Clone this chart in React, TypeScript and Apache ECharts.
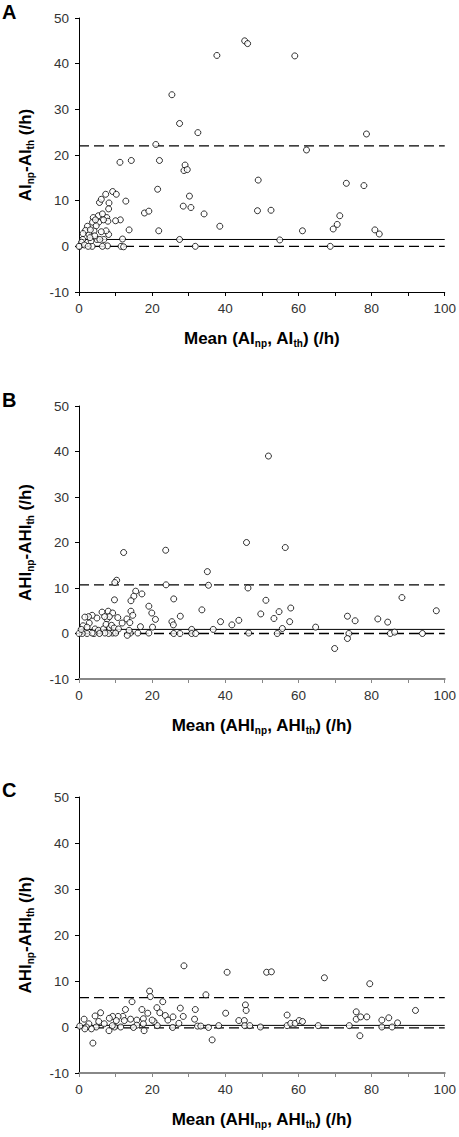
import React, { useEffect, useRef } from "react";
import * as echarts from "echarts";

// ---- Data (mean of two measures, difference) ----
const pointsA: [number, number][] = [
  [37.7, 41.8], [25.4, 33.2], [27.5, 26.9], [32.5, 24.9], [21.0, 22.3], [11.2, 18.4], [14.3, 18.8], [22.0, 18.8],
  [29.0, 17.8], [28.7, 16.6], [29.6, 16.8], [21.5, 12.5], [30.2, 11.0], [28.5, 8.8], [30.6, 8.5], [34.2, 7.1],
  [17.9, 7.3], [19.1, 7.7], [21.8, 3.4], [27.5, 1.5], [31.8, 0], [38.5, 4.4], [12.8, 9.9], [13.7, 3.6],
  [11.9, 1.6], [11.5, 0], [12.2, -0.1], [11.3, 5.8], [10.0, 5.6], [9.2, 12.0], [10.2, 11.4], [7.3, 11.4],
  [8.2, 9.5], [8.1, 8.2], [5.6, 9.6], [6.1, 10.3], [7.6, 6.3], [7.9, 5.5], [8.1, 2.6], [7.4, 3.4],
  [7.8, 0.1], [6.4, 0], [6.8, 1.5], [6.1, 3.2], [5.4, 5.3], [5.3, 6.7], [6.4, 7.1], [3.9, 6.3],
  [3.7, 5.3], [2.3, 4.4], [4.1, 3.4], [4.7, 4.5], [4.9, 1.5], [3.6, 0], [3.3, 1.2], [2.7, 2.6],
  [1.8, 3.5], [1.1, 2.8], [1.0, 1.5], [0.7, 0.9], [0.2, 0], [0, 0], [1.5, 0.3], [2.5, 0],
  [4.3, 2.3], [5.7, 1.5], [3.0, 1.9], [6.7, 5.8], [4.5, 5.8], [3.1, 3.6],
  [45.3, 45.0], [46.1, 44.4], [59.0, 41.7], [78.6, 24.6], [62.2, 21.1], [49.0, 14.5], [73.1, 13.8], [77.9, 13.3],
  [48.8, 7.8], [52.5, 7.9], [71.3, 6.7], [70.6, 4.8], [69.5, 3.8], [61.1, 3.4], [80.9, 3.6], [82.1, 2.7],
  [54.9, 1.4], [68.7, 0],
];
const pointsB: [number, number][] = [
  [12.2, 17.8], [23.7, 18.3], [35.1, 13.6], [35.4, 10.6], [23.8, 10.7], [10.3, 11.7], [9.8, 11.2], [9.7, 7.4],
  [15.5, 9.3], [15.0, 8.2], [17.2, 8.7], [14.2, 7.2], [14.2, 4.9], [14.7, 4.0], [13.1, 3.2], [13.9, 2.4],
  [11.8, 2.3], [10.6, 3.5], [25.9, 7.6], [19.1, 6.0], [19.9, 4.5], [20.9, 3.1], [20.1, 1.4], [19.1, 0.1],
  [16.8, 1.5], [16.1, 0.1], [14.0, 0.1], [13.2, -0.4], [13.7, 0.7], [25.4, 2.6], [25.8, 1.9], [27.7, 3.8],
  [25.9, 0], [27.6, 0], [30.8, 0.9], [30.8, 0], [31.9, 0], [33.6, 5.2], [36.7, 0.9], [38.7, 2.6],
  [6.3, 4.7], [8.0, 4.9], [9.2, 4.5], [7.7, 3.2], [8.3, 3.7], [7.0, 3.7], [4.9, 3.4], [3.6, 4.0],
  [2.6, 3.7], [1.6, 3.6], [1.1, 1.7], [2.8, 2.3], [2.2, 1.4], [4.4, 1.0], [5.3, 0.7], [6.7, 1.0],
  [7.4, 2.0], [8.4, 1.2], [8.9, 1.8], [9.6, 1.2], [9.2, 0.1], [8.1, 0], [7.1, 0.1], [5.6, 0],
  [4.1, 0], [3.6, 0.1], [2.2, 0], [0.9, 0], [0, 0], [0.6, 0.9], [10.8, 1.0], [10.0, 0.1],
  [51.8, 39.0], [45.8, 20.0], [56.4, 18.9], [46.2, 10.0], [88.3, 7.9], [51.1, 7.3], [49.7, 4.3], [54.7, 4.8],
  [57.9, 5.6], [53.3, 3.3], [57.6, 2.6], [55.6, 1.1], [54.2, 0], [46.4, 0.1], [43.7, 2.9], [41.8, 1.9],
  [64.7, 1.4], [69.9, -3.3], [73.4, 3.8], [73.8, 0], [73.4, -1.1], [75.5, 2.8], [81.7, 3.2], [84.4, 2.5],
  [85.1, 0], [86.3, 0.3], [93.9, 0], [97.7, 5.0],
];
const pointsC: [number, number][] = [
  [28.7, 13.3], [34.7, 7.0], [19.3, 7.8], [19.5, 6.6], [22.9, 5.5], [14.5, 5.5], [21.3, 4.2], [22.1, 3.1],
  [23.6, 2.5], [24.3, 1.5], [25.7, 2.2], [27.7, 4.1], [28.5, 2.3], [27.3, 0.8], [25.6, -0.1], [21.4, 0.3],
  [20.5, 1.2], [20.0, 1.5], [18.8, 3.0], [17.2, 3.8], [17.6, 1.8], [17.6, 0.7], [17.8, -0.8], [15.8, 1.5],
  [15.8, 0.4], [14.9, -0.1], [14.1, 1.7], [12.7, 3.8], [12.0, 2.3], [12.4, 1.4], [11.4, 0], [10.7, 2.3],
  [10.2, 1.4], [9.2, 2.3], [9.7, 0], [9.1, 0.3], [8.3, 1.9], [8.2, -0.8], [6.9, 0.7], [5.9, 3.1],
  [5.4, 1.2], [4.7, 0], [4.4, 2.4], [3.8, -3.5], [3.4, -0.4], [2.7, 0.7], [2.0, 0], [1.4, 1.7],
  [1.6, -0.4], [0.2, 0.2], [31.6, 1.7], [31.8, 3.8], [32.4, 0.2], [33.3, 0.2], [35.4, -0.1], [36.4, -2.8],
  [38.2, 0.3], [40.1, 3.0], [40.5, 11.9],
  [51.3, 11.9], [52.6, 12.0], [67.1, 10.7], [79.5, 9.4], [45.5, 4.8], [45.7, 3.6], [43.7, 1.4], [45.2, 1.4],
  [45.3, 0.3], [46.7, 0.3], [49.6, 0], [56.9, 2.6], [56.9, 0.3], [57.9, 0.8], [59.1, 0.8], [60.2, 1.4],
  [61.1, 1.2], [65.4, 0.3], [73.9, 0.3], [75.8, 3.3], [75.8, 1.7], [77.0, 2.2], [78.7, 2.2], [76.8, -1.9],
  [82.8, 1.5], [82.8, 0], [84.7, 2.0], [85.6, 0], [87.1, 0.9], [92.0, 3.6],
];

// mean bias, upper and lower limits of agreement
const biasLines = [1.5, 0.9, 0.35];
const upperLimits = [22.0, 10.7, 6.4];
const lowerLimits = [0, 0, -0.2];

const panelLetters = ["A", "B", "C"];
const xMin = 0;
const xMax = 100;
const yMin = -10;
const yMax = 50;

const xNames = [
  "{b|Mean (AI}{s|np}{b|, AI}{s|th}{b|) (/h)}",
  "{b|Mean (AHI}{s|np}{b|, AHI}{s|th}{b|) (/h)}",
  "{b|Mean (AHI}{s|np}{b|, AHI}{s|th}{b|) (/h)}",
];
const yNames = [
  "{b|AI}{s|np}{b|-AI}{s|th}{b| (/h)}",
  "{b|AHI}{s|np}{b|-AHI}{s|th}{b| (/h)}",
  "{b|AHI}{s|np}{b|-AHI}{s|th}{b| (/h)}",
];

const FONT = "'Liberation Sans', Arial, sans-serif";

export default function App() {
  const ref = useRef<HTMLDivElement>(null);
  useEffect(() => {
    if (!ref.current) return;
    const chart = echarts.init(ref.current, null, { renderer: "svg" });
    const grids = [
      { left: 79, top: 18, width: 368, height: 274 },
      { left: 79, top: 406, width: 368, height: 273 },
      { left: 79, top: 797, width: 368, height: 276 },
    ];
    const rich = {
      b: { fontSize: 17, fontWeight: "bold", fontFamily: FONT, color: "#000", lineHeight: 20 },
      s: { fontSize: 10, fontWeight: "bold", fontFamily: FONT, color: "#000", lineHeight: 10, verticalAlign: "bottom" },
    };
    const xAxisColor = ["#000", "#888", "#888"];
    const xAxisWidth = [1, 2, 2];
    const datasets = [pointsA, pointsB, pointsC];
    const series: any[] = [];
    datasets.forEach((pts, i) => {
      const hline = (v: number, dashed: boolean) => ({
        type: "line",
        xAxisIndex: i,
        yAxisIndex: i,
        data: [[xMin, v], [xMax, v]],
        symbol: "none",
        silent: true,
        z: 1,
        lineStyle: { color: "#000", width: dashed ? 1.3 : 1, type: dashed ? [10, 5] : "solid" },
      });
      series.push(hline(upperLimits[i], true));
      series.push(hline(lowerLimits[i], true));
      series.push(hline(biasLines[i], false));
      series.push({
        type: "scatter",
        xAxisIndex: i,
        yAxisIndex: i,
        data: pts,
        symbol: "circle",
        symbolSize: 6,
        clip: false,
        z: 5,
        itemStyle: { color: "#fff", borderColor: "#000", borderWidth: 1 },
      });
    });
    chart.setOption({
      animation: false,
      grid: grids,
      xAxis: grids.map((_, i) => ({
        type: "value",
        gridIndex: i,
        min: xMin,
        max: xMax,
        interval: 10,
        name: xNames[i],
        nameLocation: "middle",
        nameGap: 36,
        nameTextStyle: { rich },
        axisLine: { onZero: false, lineStyle: { color: xAxisColor[i], width: xAxisWidth[i] } },
        axisTick: { show: true, length: 4, lineStyle: { color: xAxisColor[i] } },
        splitLine: { show: false },
        axisLabel: {
          margin: 9,
          fontSize: 13.5,
          fontFamily: FONT,
          color: "#333",
          formatter: (v: number) => (v % 20 === 0 ? String(v) : ""),
        },
      })),
      yAxis: grids.map((_, i) => ({
        type: "value",
        gridIndex: i,
        min: yMin,
        max: yMax,
        interval: 10,
        name: yNames[i],
        nameLocation: "middle",
        nameGap: 44,
        nameTextStyle: { rich },
        axisLine: { show: true, onZero: false, lineStyle: { color: "#000", width: 1 } },
        axisTick: { show: true, length: 4, lineStyle: { color: "#000" } },
        splitLine: { show: false },
        axisLabel: { margin: 10, fontSize: 13.5, fontFamily: FONT, color: "#333" },
      })),
      graphic: panelLetters.map((t, i) => ({
        type: "text",
        left: 2,
        top: [2, 390, 780][i],
        style: { text: t, font: `bold 20px ${FONT}`, fill: "#000" },
      })),
      series,
    });
    return () => chart.dispose();
  }, []);
  return (
    <div
      ref={ref}
      style={{ position: "absolute", left: 0, top: 0, width: 459, height: 1137, background: "#fff" }}
    />
  );
}
